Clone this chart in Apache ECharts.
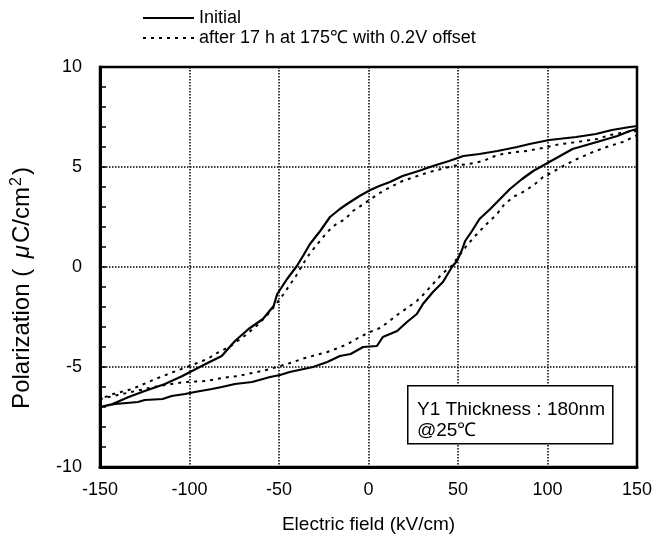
<!DOCTYPE html>
<html>
<head>
<meta charset="utf-8">
<title>P-E hysteresis</title>
<script src="https://cdn.jsdelivr.net/npm/echarts@6/dist/echarts.min.js"></script>
<style>
  html, body { margin: 0; padding: 0; background: #fff; }
  #chart { width: 664px; height: 534px; }
</style>
</head>
<body>
<div id="chart"></div>
<script>
// Initial loop: upper branch (150 -> -150) then lower branch (-150 -> 150)
const initialField = [
  150, 146, 136, 127, 116, 101, 90, 83, 72, 62, 53, 45, 36, 28, 19, 12, 6, 1, -5, -12,
  -16, -21.5, -27, -32.7, -36.6, -40, -45.5, -51, -53, -59, -67, -74.6, -82, -91, -98.6, -104,
  -113.7, -125, -134, -143, -150,
  -141.6, -128.8, -125, -115, -110, -102.5, -97, -87.5, -82, -74.6, -65, -55, -49.4, -44, -31,
  -23, -16, -10, -3, 4.7, 8, 16, 21.5, 27, 30.4, 36, 41.6, 46.6, 49.4, 52, 54, 57.8, 62, 68,
  73.5, 79, 85.8, 92, 100, 108, 114, 127.6, 139, 146, 150
]
const initialPol = [
  7.05, 7.0, 6.85, 6.65, 6.5, 6.35, 6.15, 6.0, 5.8, 5.65, 5.55, 5.3, 5.05, 4.8, 4.55, 4.25, 4.05, 3.85, 3.55, 3.15,
  2.9, 2.5, 1.8, 1.15, 0.55, 0.05, -0.6, -1.35, -1.95, -2.6, -3.1, -3.7, -4.45, -4.85, -5.2, -5.45,
  -5.85, -6.2, -6.5, -6.85, -7.0,
  -6.85, -6.75, -6.65, -6.6, -6.45, -6.35, -6.25, -6.1, -6.0, -5.85, -5.75, -5.5, -5.4, -5.25, -5.0,
  -4.75, -4.45, -4.35, -4.0, -3.95, -3.5, -3.2, -2.75, -2.35, -1.85, -1.25, -0.75, 0, 0.3, 0.8, 1.3, 1.8, 2.4, 2.9,
  3.4, 3.9, 4.4, 4.8, 5.2, 5.6, 5.9, 6.25, 6.55, 6.8, 6.9
]

// After 17 h at 175 C with 0.2 V offset
const agedField = [
  150, 144, 135, 127.6, 120, 112.6, 107, 100, 94, 88.5, 82, 75, 70.7, 64, 56, 47, 34, 19, 8, -3.6,
  -8.7, -13, -18.7, -23, -27.6, -32.6, -36.6, -40.5, -44.4, -47.8, -55, -62, -70, -77, -84.6, -90,
  -100, -109, -119, -132, -142.7, -150,
  -140, -130, -120, -110, -102.5, -91, -84.6, -78, -72.9, -65, -59.5, -51, -42, -35.5, -23, -17,
  -11.5, -5.9, 0.8, 6.4, 11, 16, 21.5, 27, 30.4, 37, 41, 47, 50, 55.6, 60.6, 66, 71.8, 76, 81.8,
  87.4, 93, 97.5, 103, 108.7, 116.5, 125.4, 133, 142, 148, 150
]
const agedPol = [
  6.8, 6.75, 6.6, 6.4, 6.3, 6.2, 6.15, 6.0, 5.9, 5.8, 5.75, 5.65, 5.55, 5.3, 5.15, 5.05, 4.75, 4.3, 3.8, 3.1,
  2.8, 2.4, 2.1, 1.75, 1.25, 0.7, 0.15, -0.45, -0.95, -1.4, -2.25, -2.9, -3.5, -3.95, -4.3, -4.6,
  -4.95, -5.25, -5.6, -6.1, -6.35, -6.6,
  -6.4, -6.2, -6.0, -5.85, -5.75, -5.7, -5.6, -5.5, -5.45, -5.3, -5.2, -5.0, -4.75, -4.55, -4.25, -4.05,
  -3.85, -3.55, -3.25, -3.05, -2.75, -2.4, -2.05, -1.7, -1.4, -0.75, -0.35, 0.1, 0.5, 1.15, 1.65, 2.15, 2.65, 3.15, 3.55,
  3.8, 4.15, 4.5, 4.75, 5.05, 5.4, 5.75, 6.0, 6.25, 6.5, 6.6
]

const seriesNames = ['Initial', 'after 17 h at 175\u2103 with 0.2V offset']
const noteLines = ['Y1 Thickness : 180nm', '@25\u2103']

const font = '"Liberation Sans", Arial, Helvetica, sans-serif'
const pairs = (xs, ys) => xs.map((x, i) => [x, ys[i]])

const chart = echarts.init(document.getElementById('chart'), null, { renderer: 'canvas' })

const option = {
  backgroundColor: '#fff',
  animation: false,
  textStyle: { fontFamily: font, color: '#000' },
  legend: {
    orient: 'vertical',
    left: 137,
    top: 4,
    itemWidth: 51,
    itemHeight: 10,
    itemGap: 2,
    itemStyle: { opacity: 0 },
    textStyle: { fontSize: 18, color: '#000', fontFamily: font },
    data: seriesNames
  },
  grid: {
    left: 100,
    top: 67,
    width: 537,
    height: 400,
    outerBoundsMode: 'none',
    show: true,
    borderColor: '#000',
    borderWidth: 2.5
  },
  xAxis: {
    type: 'value',
    min: -150,
    max: 150,
    interval: 50,
    name: 'Electric field (kV/cm)',
    nameLocation: 'middle',
    nameGap: 48,
    nameTextStyle: { fontSize: 19, color: '#000', fontFamily: font },
    axisLine: { onZero: false, lineStyle: { color: '#000', width: 3 } },
    axisTick: { show: false },
    axisLabel: { fontSize: 18, color: '#000', margin: 14, fontFamily: font },
    splitLine: { lineStyle: { color: '#000', width: 1.5, type: [1.5, 1.5] } }
  },
  yAxis: {
    type: 'value',
    min: -10,
    max: 10,
    interval: 5,
    name: 'Polarization ( {mu|\u03bc}C/cm{sup|2})',
    nameLocation: 'middle',
    nameGap: 64,
    nameRotate: 90,
    nameTextStyle: {
      fontSize: 24,
      color: '#000',
      fontFamily: font,
      padding: [0, 42, 0, 0],
      rich: {
        mu: { fontSize: 24, fontStyle: 'italic', fontFamily: font, color: '#000', padding: [0, 2, 0, 4] },
        sup: { fontSize: 16, verticalAlign: 'bottom', padding: [0, 2, 11, 1], fontFamily: font, color: '#000' }
      }
    },
    axisLine: { onZero: false, lineStyle: { color: '#000', width: 3 } },
    axisTick: { show: true, inside: true, length: 6, lineStyle: { color: '#000', width: 1.5 } },
    minorTick: { show: true, splitNumber: 5, length: 6, lineStyle: { color: '#000', width: 1.5 } },
    axisLabel: { fontSize: 18, color: '#000', margin: 18, fontFamily: font },
    splitLine: { lineStyle: { color: '#000', width: 1.5, type: [1.5, 1.5] } }
  },
  graphic: [
    {
      type: 'rect',
      left: 407,
      top: 385,
      shape: { width: 205, height: 58 },
      style: { fill: '#fff', stroke: '#000', lineWidth: 1.5 },
      z: 100
    },
    {
      type: 'text',
      left: 417,
      top: 399,
      style: {
        text: noteLines.join('\n'),
        font: '19px ' + font,
        lineHeight: 21,
        fill: '#000'
      },
      z: 101
    }
  ],
  series: [
    {
      name: seriesNames[0],
      type: 'line',
      data: pairs(initialField, initialPol),
      symbol: 'none',
      smooth: false,
      lineStyle: { color: '#000', width: 2.2 },
      itemStyle: { color: '#000' },
      z: 3
    },
    {
      name: seriesNames[1],
      type: 'line',
      data: pairs(agedField, agedPol),
      symbol: 'none',
      smooth: false,
      lineStyle: { color: '#000', width: 2, type: [3, 5] },
      itemStyle: { color: '#000' },
      z: 2
    }
  ]
}

chart.setOption(option)
</script>
</body>
</html>
